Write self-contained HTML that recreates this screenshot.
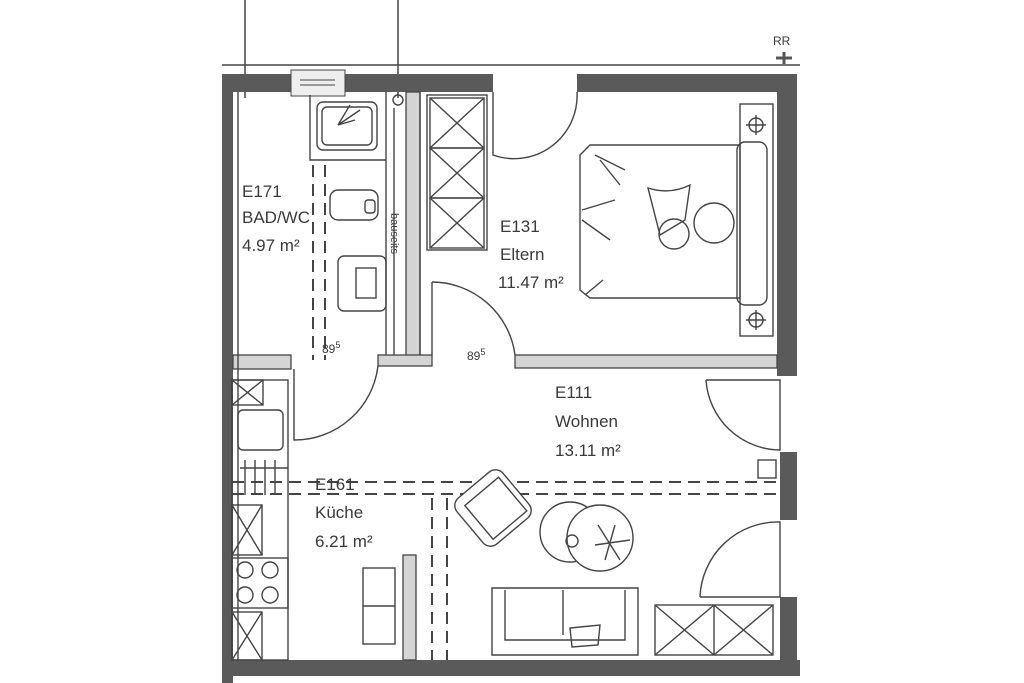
<!DOCTYPE html>
<html><head><meta charset="utf-8"><style>
html,body{margin:0;padding:0;background:#fff;}
svg{display:block;}
text{font-family:"Liberation Sans",sans-serif;fill:#3a3a3a;}
</style></head><body>
<svg width="1024" height="683" viewBox="0 0 1024 683" xmlns="http://www.w3.org/2000/svg">
<g stroke="#444" fill="none" stroke-width="1.5">
<!-- top reference lines -->
<line x1="245" y1="0" x2="245" y2="98"/>
<line x1="398" y1="0" x2="398" y2="98"/>
<line x1="222" y1="65" x2="800" y2="65"/>
</g>
<text x="773" y="45" font-size="12">RR</text>
<path d="M776 58 L792 58 M784 52 L784 64" stroke="#555" stroke-width="3"/>
<!-- dark walls -->
<g fill="#5a5a5a">
<rect x="222" y="74" width="271" height="18"/>
<rect x="577" y="74" width="220" height="18"/>
<rect x="777" y="74" width="20" height="302"/>
<rect x="222" y="74" width="11" height="609"/>
<rect x="222" y="660" width="578" height="16"/>
<rect x="780" y="452" width="17" height="68"/>
<rect x="780" y="597" width="17" height="70"/>
</g>
<!-- window -->
<rect x="291" y="70" width="54" height="26" fill="#eee" stroke="#444"/>
<line x1="300" y1="80" x2="335" y2="80" stroke="#444"/><line x1="300" y1="85" x2="335" y2="85" stroke="#444"/>
<!-- light grey walls -->
<g fill="#d4d4d4" stroke="#444" stroke-width="1.3">
<rect x="406" y="92" width="14" height="265"/>
<rect x="378" y="355" width="54" height="11"/>
<rect x="515" y="355" width="262" height="13"/>
<rect x="233" y="355" width="58" height="14"/>
<rect x="403" y="555" width="13" height="105"/>
</g>
<g stroke="#444" fill="none" stroke-width="1.4">
<line x1="238" y1="92" x2="238" y2="660"/>
<line x1="386" y1="92" x2="386" y2="355"/>
<line x1="432" y1="282" x2="432" y2="355"/>
<line x1="420" y1="92" x2="420" y2="355"/>
<!-- doors -->
<path d="M493 92 L493 155 A63 63 0 0 0 577 92"/>
<path d="M432 282 A84 84 0 0 1 515 355"/>
<path d="M378 366 A84 84 0 0 1 294 440 L294 369"/>
<path d="M706 380 L780 380 L780 450 A75 75 0 0 1 706 380"/>
<path d="M700 597 L780 597 L780 522 A78 78 0 0 0 700 597"/>
<!-- bath -->
<rect x="317" y="102" width="60" height="48" rx="6"/>
<rect x="322" y="107" width="50" height="38" rx="5"/>
<path d="M310 95 L310 160 L386 160"/>
<path d="M338 125 L360 110 M338 125 L355 120 M338 125 L350 105"/>
<rect x="330" y="190" width="48" height="30" rx="8"/>
<rect x="365" y="200" width="10" height="13" rx="3"/>
<rect x="338" y="256" width="48" height="55" rx="6"/>
<rect x="356" y="268" width="20" height="30"/>
<circle cx="398" cy="100" r="5"/>
<line x1="394" y1="108" x2="394" y2="355"/>
<!-- wardrobe -->
<rect x="427" y="95" width="60" height="155"/>
<rect x="430" y="98" width="54" height="50"/><rect x="430" y="148" width="54" height="50"/><rect x="430" y="198" width="54" height="50"/>
<path d="M430 98 L484 148 M484 98 L430 148 M430 148 L484 198 M484 148 L430 198 M430 198 L484 248 M484 198 L430 248"/>
<!-- bed -->
<path d="M590 145 L740 145 L740 298 L590 298 L580 290 L580 155 Z"/>
<rect x="740" y="104" width="33" height="232"/>
<rect x="737" y="142" width="30" height="163" rx="8"/>
<circle cx="756" cy="125" r="7"/><path d="M746 125 L766 125 M756 115 L756 135"/>
<circle cx="756" cy="320" r="7"/><path d="M746 320 L766 320 M756 310 L756 330"/>
<path d="M595 155 L625 170 M600 160 L620 185 M582 210 L615 200 M582 220 L610 240 M585 295 L603 280"/>
<path d="M648 188 Q670 195 690 185 L685 220 L660 235 Z"/>
<circle cx="674" cy="234" r="15"/><circle cx="714" cy="223" r="20"/>
<!-- kitchen -->
<rect x="232" y="380" width="56" height="280"/>
<rect x="232" y="380" width="31" height="25"/><path d="M232 380 L263 405 M263 380 L232 405"/>
<rect x="238" y="410" width="45" height="40" rx="5"/>
<path d="M245 460 V495 M255 460 V495 M265 460 V495 M275 460 V495 M240 468 H288"/>
<rect x="232" y="505" width="30" height="50"/><path d="M232 505 L262 555 M262 505 L232 555"/>
<rect x="232" y="558" width="56" height="50"/>
<circle cx="245" cy="570" r="8"/><circle cx="270" cy="570" r="8"/><circle cx="245" cy="595" r="8"/><circle cx="270" cy="595" r="8"/>
<rect x="232" y="612" width="30" height="48"/><path d="M232 612 L262 660 M262 612 L232 660"/>
<!-- shelf -->
<rect x="363" y="568" width="32" height="76"/><line x1="363" y1="606" x2="395" y2="606"/>
<!-- dashed lines -->
<g stroke-dasharray="12 7" stroke-width="2">
<line x1="232" y1="482" x2="780" y2="482"/>
<line x1="232" y1="494" x2="780" y2="494"/>
<line x1="432" y1="498" x2="432" y2="660"/>
<line x1="447" y1="498" x2="447" y2="660"/>
<line x1="325" y1="165" x2="325" y2="360"/>
<line x1="313" y1="165" x2="313" y2="360"/>
</g>
<!-- armchair -->
<g transform="rotate(-40 493 508)">
<rect x="463" y="478" width="60" height="60" rx="10" fill="#fff"/>
<rect x="473" y="488" width="44" height="44"/>
</g>
<!-- tables -->
<circle cx="570" cy="532" r="30"/><circle cx="600" cy="538" r="33" fill="#fff"/>
<circle cx="572" cy="541" r="6"/>
<path d="M598 525 L620 560 M615 525 L605 560 M595 545 L630 540"/>
<!-- sofa -->
<path d="M492 588 H638 V655 H492 Z"/><path d="M505 590 V640 H625 V590"/>
<line x1="563" y1="590" x2="563" y2="635"/>
<path d="M570 628 L600 625 L598 645 L572 647 Z"/>
<!-- sideboard -->
<rect x="655" y="605" width="118" height="50"/><line x1="714" y1="605" x2="714" y2="655"/>
<path d="M655 605 L714 655 M714 605 L655 655 M714 605 L773 655 M773 605 L714 655"/>
<rect x="758" y="460" width="18" height="18"/>
</g>
<g font-size="17">
<text x="242" y="197">E171</text><text x="242" y="223">BAD/WC</text><text x="242" y="251">4.97 m²</text>
<text x="500" y="232">E131</text><text x="500" y="260">Eltern</text><text x="498" y="288">11.47 m²</text>
<text x="555" y="398">E111</text><text x="555" y="427">Wohnen</text><text x="555" y="456">13.11 m²</text>
<text x="315" y="490">E161</text><text x="315" y="518">Küche</text><text x="315" y="547">6.21 m²</text>
</g>
<text x="322" y="353" font-size="12">89<tspan dy="-5" font-size="9">5</tspan></text>
<text x="467" y="360" font-size="12">89<tspan dy="-5" font-size="9">5</tspan></text>
<text transform="translate(391 213) rotate(90)" font-size="11">bauseits</text>
</svg>
</body></html>
